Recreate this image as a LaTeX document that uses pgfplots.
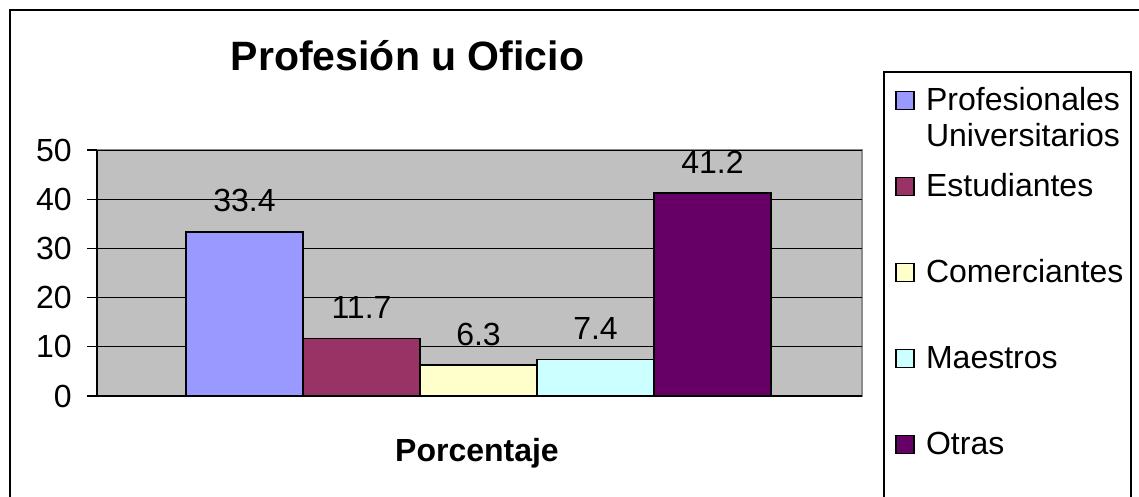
\documentclass[border=0pt]{standalone}
\usepackage{fontspec}
\setmainfont{Liberation Sans}
\usepackage{pgfplots}
\pgfplotsset{compat=1.18}
\definecolor{cProf}{HTML}{9999FF}
\definecolor{cEst}{HTML}{993366}
\definecolor{cCom}{HTML}{FFFFCC}
\definecolor{cMae}{HTML}{CCFFFF}
\definecolor{cOtr}{HTML}{660066}
\definecolor{plotbg}{HTML}{C0C0C0}
\definecolor{plotframe}{HTML}{8C8C8C}
\newcommand\lblfont{\fontsize{16}{18}\selectfont}
\pgfplotsset{
  sqlegend/.style={legend image code/.code={\draw[##1, line width=0.8pt] (-0.75pt,0.25pt) rectangle (8.5pt,9.25pt);}},
}
\begin{document}
\begin{tikzpicture}
\useasboundingbox (0,0) rectangle (569.5pt,248.5pt);
\clip (0,0) rectangle (569.5pt,248.5pt);
\draw[line width=1pt] (4.75pt,-10pt) -- (4.75pt,243.5pt) -- (600pt,243.5pt);
\draw[line width=0.8pt] (442pt,-10pt) -- (442pt,212.5pt) -- (565.5pt,212.5pt) -- (565.5pt,-10pt);
\begin{axis}[
  scale only axis, width=382.5pt, height=123pt,
  anchor=south west, at={(48.5pt,50.5pt)},
  xmin=-1.2607, xmax=5.2778, ymin=0, ymax=50,
  ytick={0,10,...,50}, xtick=\empty,
  axis x line*=bottom, axis y line*=left,
  axis line style={-, black, line width=0.6pt},
  axis background/.style={fill=plotbg, draw=plotframe, line width=1pt},
  ymajorgrids, major grid style={black, line width=0.5pt},
  tick align=outside, major tick length=5pt, tick style={black, line width=0.6pt},
  /pgf/number format/assume math mode=true,
  ticklabel style={font=\lblfont},
  yticklabel style={inner sep=0pt, xshift=-7.5pt},
  ybar, bar width=1,
  every axis plot post/.append style={bar shift=0pt, draw=black, line width=0.85pt, sqlegend},
  nodes near coords,
  nodes near coords style={font=\lblfont, anchor=base, inner sep=0pt, yshift=10pt, black},
  title={\fontsize{20.5}{24}\selectfont\bfseries Profesión u Oficio},
  title style={at={(rel axis cs:0.4059,1)}, anchor=base, yshift=34pt, inner sep=0pt},
  xlabel={\fontsize{16}{19}\selectfont\bfseries Porcentaje},
  xlabel style={at={(rel axis cs:0.4967,0)}, anchor=base, yshift=-33pt, inner sep=0pt},
  legend style={draw=none, fill=none, at={(rel axis cs:1.0431,1.2602)}, anchor=north west,
    inner sep=0pt, outer sep=0pt, row sep=27pt, font=\lblfont,
    cells={anchor=base west},
    nodes={inner sep=0pt, text height=12pt, text depth=4pt, anchor=base west},
    /tikz/every odd column/.append style={column sep=5.5pt}},
]
\addplot[fill=cProf] coordinates {(0,33.4)};
\addlegendentry{\smash{\begin{tabular}[t]{@{}l@{}}Profesionales\\Universitarios\end{tabular}}}
\addplot[fill=cEst] coordinates {(1,11.7)};
\addlegendentry{Estudiantes}
\addplot[fill=cCom] coordinates {(2,6.3)};
\addlegendentry{Comerciantes}
\addplot[fill=cMae] coordinates {(3,7.4)};
\addlegendentry{Maestros}
\addplot[fill=cOtr] coordinates {(4,41.2)};
\addlegendentry{Otras}
\end{axis}
\end{tikzpicture}
\end{document}
